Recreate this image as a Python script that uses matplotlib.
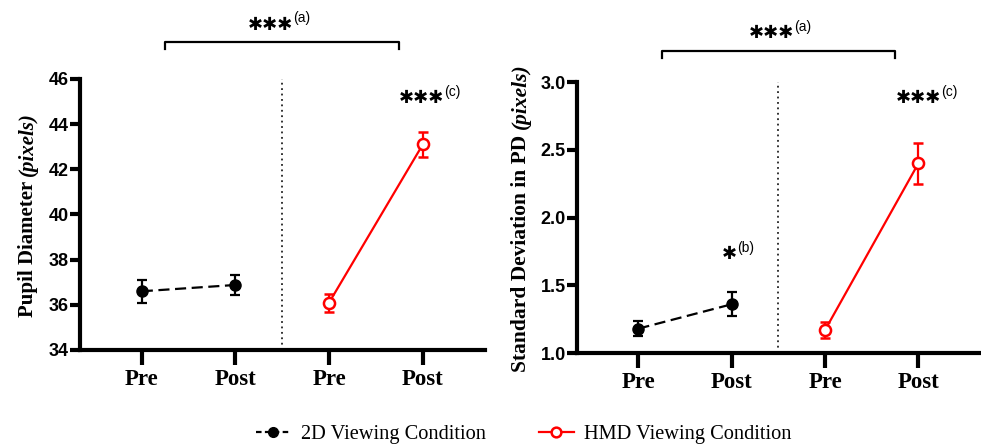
import matplotlib
matplotlib.use('Agg')
import matplotlib.pyplot as plt
from matplotlib.lines import Line2D

# ---- data ----
phases = ['Pre', 'Post']
pd_2d = [36.6, 36.88]
pd_2d_err = [0.5, 0.45]
pd_hmd = [36.1, 43.1]
pd_hmd_err = [0.4, 0.57]

sd_2d = [1.18, 1.36]
sd_2d_err = [0.055, 0.09]
sd_hmd = [1.17, 2.40]
sd_hmd_err = [0.06, 0.15]

serif = 'Liberation Serif'
sans = 'Liberation Sans'

fig = plt.figure(figsize=(9.81, 4.45), dpi=100)
ax1 = fig.add_axes([0.0815, 0.2135, 0.4125, 0.609])
ax2 = fig.add_axes([0.588, 0.2067, 0.411, 0.609])


def draw_panel(ax, v2d, e2d, vhmd, ehmd, ylim, yticks, fmt):
    x2d = [0, 1]
    xhmd = [2, 3]
    ax.errorbar(x2d, v2d, yerr=e2d, color='black', ls=(0, (5, 2.5)), lw=1.6,
                marker='o', ms=8, mfc='black', mec='black', capsize=3.5,
                elinewidth=1.6, capthick=1.6, zorder=3)
    ax.errorbar(xhmd, vhmd, yerr=ehmd, color='#ff0000', ls='-', lw=1.6,
                marker='o', ms=8, mfc='white', mec='#ff0000', mew=1.8,
                capsize=3.5, elinewidth=1.6, capthick=1.6, zorder=3)
    ax.axvline(1.5, color='#222222', ls=(0, (1, 2)), lw=1.3)
    ax.set_xlim(-0.66, 3.66)
    ax.set_ylim(*ylim)
    ax.set_yticks(yticks)
    ax.set_yticklabels([fmt.format(t) for t in yticks],
                       fontfamily=sans, fontweight='bold', fontsize=13)
    ax.set_xticks([0, 1, 2, 3])
    ax.set_xticklabels(phases * 2, fontfamily=serif, fontweight='bold',
                       fontsize=16.5)
    for s in ['top', 'right']:
        ax.spines[s].set_visible(False)
    for s in ['left', 'bottom']:
        ax.spines[s].set_linewidth(3)
    ax.tick_params(axis='x', length=11, width=3, pad=3)
    ax.tick_params(axis='y', length=7, width=3, pad=1)


draw_panel(ax1, pd_2d, pd_2d_err, pd_hmd, pd_hmd_err, (34, 46),
           [34, 36, 38, 40, 42, 44, 46], '{:.0f}')
draw_panel(ax2, sd_2d, sd_2d_err, sd_hmd, sd_hmd_err, (1.0, 3.0),
           [1.0, 1.5, 2.0, 2.5, 3.0], '{:.1f}')

fig.canvas.draw()
r = fig.canvas.get_renderer()


def ylabel_mixed(ax, main, ital, xpx, size):
    # bold upright part followed by bold italic "(pixels)"
    bb = ax.get_window_extent(r)
    t1 = fig.text(xpx / 981, 0, main, rotation=90, fontfamily=serif,
                  fontweight='bold', fontsize=size, ha='center', va='bottom')
    t2 = fig.text(xpx / 981, 0, ital, rotation=90, fontfamily=serif,
                  fontweight='bold', style='italic', fontsize=size,
                  ha='center', va='bottom')
    h1 = t1.get_window_extent(r).height
    h2 = t2.get_window_extent(r).height
    ymid = (bb.y0 + bb.y1) / 2
    y0 = ymid - (h1 + h2) / 2
    t1.set_y(y0 / fig.bbox.height)
    t2.set_y((y0 + h1) / fig.bbox.height)


ylabel_mixed(ax1, 'Pupil Diameter ', '(pixels)', 28, 15)
ylabel_mixed(ax2, 'Standard Deviation in PD ', '(pixels)', 521, 15.5)


def stars(ax, x, y, n, sup):
    t = ax.annotate('\u2731' * n, (x, y), xycoords=('data', 'axes fraction'),
                    ha='right', va='center', fontsize=13, fontweight='bold',
                    fontfamily='DejaVu Sans', annotation_clip=False)
    ax.annotate(sup, (1.0, 0.85), xycoords=t, ha='left', va='center',
                fontsize=10, fontfamily=sans)


def bracket(ax, x0, x1, y, drop):
    ax.plot([x0, x0, x1, x1], [y - drop, y, y, y - drop],
            transform=ax.get_xaxis_transform(), color='black', lw=1.6,
            clip_on=False)


bracket(ax1, 0.25, 2.75, 1.135, 0.025)
stars(ax1, 1.62, 1.2, 3, '(a)')
stars(ax1, 3.23, 0.93, 3, '(c)')

bracket(ax2, 0.25, 2.75, 1.115, 0.025)
stars(ax2, 1.67, 1.18, 3, '(a)')
stars(ax2, 3.24, 0.94, 3, '(c)')
stars(ax2, 1.06, 0.365, 1, '(b)')

handles = [
    Line2D([], [], color='black', ls=(0, (2.5, 1.5)), lw=1.6, marker='o',
           ms=7, mfc='black', mec='black'),
    Line2D([], [], color='#ff0000', ls='-', lw=1.6, marker='o', ms=7,
           mfc='white', mec='#ff0000', mew=1.8),
]
fig.legend(handles, ['2D Viewing Condition', 'HMD Viewing Condition'],
           loc='lower center', bbox_to_anchor=(0.534, -0.04), ncol=2,
           frameon=False, handlelength=1.7, handletextpad=0.5,
           columnspacing=2.6, prop={'family': serif, 'size': 14.7})

fig.savefig('out.png', dpi=100)
